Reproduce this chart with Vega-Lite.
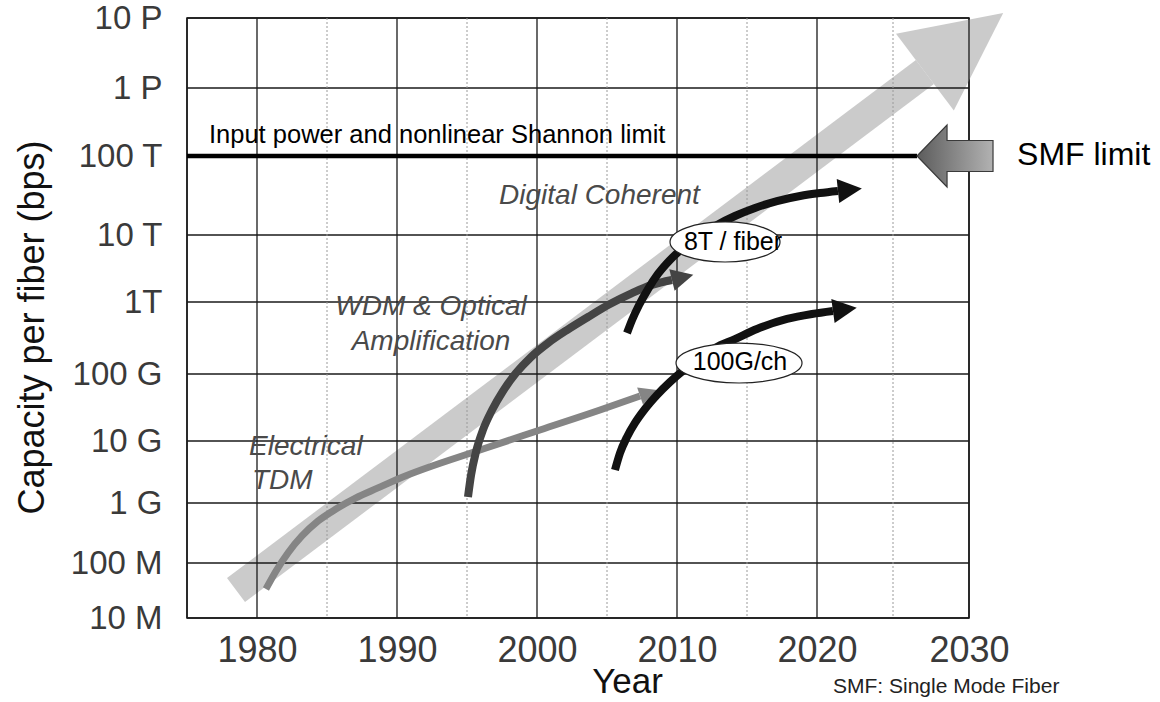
{
  "$schema": "https://vega.github.io/schema/vega-lite/v6.json",
  "width": 782,
  "height": 600,
  "autosize": {"type": "none"},
  "padding": {"left": 187, "top": 18, "right": 191, "bottom": 84},
  "background": "white",
  "config": {"view": {"stroke": "#111", "strokeWidth": 1.5}, "font": "Liberation Sans"},
  "datasets": {
    "curves": [
      {"series": "TDM", "year": 1980.64, "cap": 3.37e7},
      {"series": "TDM", "year": 1981.36, "cap": 7.16e7},
      {"series": "TDM", "year": 1982.21, "cap": 1.47e8},
      {"series": "TDM", "year": 1983.21, "cap": 2.82e8},
      {"series": "TDM", "year": 1984.36, "cap": 5.0e8},
      {"series": "TDM", "year": 1985.64, "cap": 7.94e8},
      {"series": "TDM", "year": 1987.07, "cap": 1.21e9},
      {"series": "TDM", "year": 1988.64, "cap": 1.75e9},
      {"series": "TDM", "year": 1990.07, "cap": 2.44e9},
      {"series": "TDM", "year": 1996.14, "cap": 7.43e9},
      {"series": "TDM", "year": 2000.21, "cap": 1.46e10},
      {"series": "TDM", "year": 2004.5, "cap": 2.9e10},
      {"series": "TDM", "year": 2007.36, "cap": 4.7e10},
      {"series": "WDM", "year": 1995.07, "cap": 1.25e9},
      {"series": "WDM", "year": 1995.29, "cap": 2.83e9},
      {"series": "WDM", "year": 1995.64, "cap": 6.65e9},
      {"series": "WDM", "year": 1996.14, "cap": 1.46e10},
      {"series": "WDM", "year": 1996.79, "cap": 2.9e10},
      {"series": "WDM", "year": 1997.57, "cap": 5.57e10},
      {"series": "WDM", "year": 1998.5, "cap": 1.03e11},
      {"series": "WDM", "year": 1999.57, "cap": 1.72e11},
      {"series": "WDM", "year": 2000.79, "cap": 2.7e11},
      {"series": "WDM", "year": 2002.14, "cap": 4.08e11},
      {"series": "WDM", "year": 2003.64, "cap": 6.19e11},
      {"series": "WDM", "year": 2005.21, "cap": 9.38e11},
      {"series": "WDM", "year": 2006.79, "cap": 1.36e12},
      {"series": "WDM", "year": 2008.21, "cap": 1.8e12},
      {"series": "WDM", "year": 2009.64, "cap": 2.13e12},
      {"series": "8T", "year": 2006.43, "cap": 3.71e11},
      {"series": "8T", "year": 2006.79, "cap": 5.62e11},
      {"series": "8T", "year": 2007.29, "cap": 9.08e11},
      {"series": "8T", "year": 2007.93, "cap": 1.56e12},
      {"series": "8T", "year": 2008.64, "cap": 2.62e12},
      {"series": "8T", "year": 2009.5, "cap": 4.24e12},
      {"series": "8T", "year": 2010.5, "cap": 6.62e12},
      {"series": "8T", "year": 2011.64, "cap": 1.0e13},
      {"series": "8T", "year": 2012.86, "cap": 1.34e13},
      {"series": "8T", "year": 2014.14, "cap": 1.74e13},
      {"series": "8T", "year": 2015.57, "cap": 2.2e13},
      {"series": "8T", "year": 2017.14, "cap": 2.69e13},
      {"series": "8T", "year": 2018.79, "cap": 3.12e13},
      {"series": "8T", "year": 2020.2, "cap": 3.4e13},
      {"series": "8T", "year": 2021.38, "cap": 3.61e13},
      {"series": "100G", "year": 2005.57, "cap": 3.41e9},
      {"series": "100G", "year": 2005.93, "cap": 6.4e9},
      {"series": "100G", "year": 2006.43, "cap": 1.15e10},
      {"series": "100G", "year": 2007.0, "cap": 1.86e10},
      {"series": "100G", "year": 2007.71, "cap": 3.0e10},
      {"series": "100G", "year": 2008.57, "cap": 4.86e10},
      {"series": "100G", "year": 2009.5, "cap": 7.6e10},
      {"series": "100G", "year": 2010.57, "cap": 1.17e11},
      {"series": "100G", "year": 2011.64, "cap": 1.67e11},
      {"series": "100G", "year": 2012.71, "cap": 2.3e11},
      {"series": "100G", "year": 2014.14, "cap": 3.06e11},
      {"series": "100G", "year": 2015.71, "cap": 4.22e11},
      {"series": "100G", "year": 2017.86, "cap": 5.81e11},
      {"series": "100G", "year": 2019.64, "cap": 6.81e11},
      {"series": "100G", "year": 2021.05, "cap": 7.5e11}
    ],
    "heads": [
      {"series": "TDM", "year": 2007.36, "cap": 4.7e10},
      {"series": "WDM", "year": 2009.64, "cap": 2.13e12},
      {"series": "8T", "year": 2021.38, "cap": 3.61e13},
      {"series": "100G", "year": 2021.05, "cap": 7.5e11}
    ],
    "bigArrow": [
      {"year": 1978.5, "cap": 3.23e7},
      {"year": 2027.1, "cap": 1.69e15}
    ],
    "hgrid": [
      {"cap": 1e7}, {"cap": 1e8}, {"cap": 1e9}, {"cap": 1e10}, {"cap": 1e11},
      {"cap": 1e12}, {"cap": 1e13}, {"cap": 1e15}, {"cap": 1e16}
    ],
    "vgrid": [
      {"year": 1975}, {"year": 1980}, {"year": 1990}, {"year": 2000},
      {"year": 2010}, {"year": 2020}, {"year": 2030}
    ],
    "vgridDot": [
      {"year": 1985}, {"year": 1995}, {"year": 2005}, {"year": 2015}, {"year": 2025}
    ]
  },
  "layer": [
    {
      "data": {"name": "bigArrow"},
      "mark": {"type": "line", "color": "#cbcbcb", "strokeWidth": 30, "strokeCap": "butt"},
      "encoding": {
        "x": {
          "field": "year", "type": "quantitative",
          "scale": {"type": "linear", "domain": [1975, 2020, 2030], "range": [0, 630, 782], "nice": false, "zero": false},
          "axis": {
            "values": [1980, 1990, 2000, 2010, 2020, 2030], "format": "d",
            "grid": false, "domain": false, "ticks": false, "tickSize": 0,
            "labelFontSize": 36, "labelColor": "#3a3a3a", "labelPadding": 43,
            "labelBaseline": "alphabetic", "labelOverlap": false, "labelFlush": false,
            "title": "Year", "titleFontSize": 35, "titleFontWeight": "normal", "titleColor": "#111",
            "titleX": 440, "titleY": 74, "titleBaseline": "alphabetic", "titleAlign": "center"
          }
        },
        "y": {
          "field": "cap", "type": "quantitative",
          "scale": {"type": "log", "domain": [1e7, 1e8, 1e9, 1e10, 1e11, 1e12, 1e13, 1e14, 1e15, 1e16], "range": [600, 545, 485, 423, 356, 284, 217, 138, 70, 0], "nice": false},
          "axis": {
            "values": [1e7, 1e8, 1e9, 1e10, 1e11, 1e12, 1e13, 1e14, 1e15, 1e16],
            "labelExpr": "['10 M','100 M','1 G','10 G','100 G','1T','10 T','100 T','1 P','10 P'][round(log(datum.value)/LN10)-7]",
            "grid": false, "domain": false, "ticks": false, "tickSize": 0,
            "labelFontSize": 33, "labelColor": "#3a3a3a", "labelPadding": 25,
            "labelBaseline": "middle", "labelOverlap": false,
            "title": "Capacity per fiber (bps)", "titleFontSize": 36, "titleFontWeight": "normal", "titleColor": "#111",
            "titleX": -144, "titleY": 309, "titleAngle": 270, "titleBaseline": "alphabetic", "titleAlign": "center"
          }
        }
      }
    },
    {
      "data": {"values": [{"year": 2027.1, "cap": 1.69e15}]},
      "mark": {"type": "point", "shape": "M -0.49 0 L 0.49 0 L 0 -1 Z", "size": 38416, "angle": 53, "filled": true, "color": "#cbcbcb", "opacity": 1},
      "encoding": {
        "x": {"field": "year", "type": "quantitative"},
        "y": {"field": "cap", "type": "quantitative"}
      }
    },
    {
      "data": {"name": "hgrid"},
      "mark": {"type": "rule", "color": "#1a1a1a", "strokeWidth": 1.3},
      "encoding": {"y": {"field": "cap", "type": "quantitative"}}
    },
    {
      "data": {"name": "vgrid"},
      "mark": {"type": "rule", "color": "#1a1a1a", "strokeWidth": 1.3},
      "encoding": {"x": {"field": "year", "type": "quantitative"}}
    },
    {
      "data": {"name": "vgridDot"},
      "mark": {"type": "rule", "color": "#9a9a9a", "strokeWidth": 1, "strokeDash": [2, 2]},
      "encoding": {"x": {"field": "year", "type": "quantitative"}}
    },
    {
      "data": {"values": [{"year": 1975, "cap": 1e14}, {"year": 2026.58, "cap": 1e14}]},
      "mark": {"type": "line", "color": "#000", "strokeWidth": 4.5, "strokeCap": "butt"},
      "encoding": {
        "x": {"field": "year", "type": "quantitative"},
        "y": {"field": "cap", "type": "quantitative"}
      }
    },
    {
      "data": {"name": "curves"},
      "transform": [{"filter": "datum.series === 'TDM'"}],
      "mark": {"type": "line", "color": "#858585", "strokeWidth": 7, "strokeCap": "butt", "interpolate": "monotone"},
      "encoding": {
        "x": {"field": "year", "type": "quantitative"},
        "y": {"field": "cap", "type": "quantitative"}
      }
    },
    {
      "data": {"name": "heads"},
      "transform": [{"filter": "datum.series === 'TDM'"}],
      "mark": {"type": "point", "shape": "M -0.5 0 L 0.5 0 L 0 -1 Z", "size": 1296, "angle": 71, "filled": true, "color": "#858585", "opacity": 1},
      "encoding": {
        "x": {"field": "year", "type": "quantitative"},
        "y": {"field": "cap", "type": "quantitative"}
      }
    },
    {
      "data": {"name": "curves"},
      "transform": [{"filter": "datum.series === 'WDM'"}],
      "mark": {"type": "line", "color": "#444444", "strokeWidth": 8, "strokeCap": "butt", "interpolate": "monotone"},
      "encoding": {
        "x": {"field": "year", "type": "quantitative"},
        "y": {"field": "cap", "type": "quantitative"}
      }
    },
    {
      "data": {"name": "heads"},
      "transform": [{"filter": "datum.series === 'WDM'"}],
      "mark": {"type": "point", "shape": "M -0.5 0 L 0.5 0 L 0 -1 Z", "size": 1936, "angle": 76, "filled": true, "color": "#444444", "opacity": 1},
      "encoding": {
        "x": {"field": "year", "type": "quantitative"},
        "y": {"field": "cap", "type": "quantitative"}
      }
    },
    {
      "data": {"name": "curves"},
      "transform": [{"filter": "datum.series === '8T'"}],
      "mark": {"type": "line", "color": "#111111", "strokeWidth": 8, "strokeCap": "butt", "interpolate": "monotone"},
      "encoding": {
        "x": {"field": "year", "type": "quantitative"},
        "y": {"field": "cap", "type": "quantitative"}
      }
    },
    {
      "data": {"name": "heads"},
      "transform": [{"filter": "datum.series === '8T'"}],
      "mark": {"type": "point", "shape": "M -0.5 0 L 0.5 0 L 0 -1 Z", "size": 2304, "angle": 84, "filled": true, "color": "#111111", "opacity": 1},
      "encoding": {
        "x": {"field": "year", "type": "quantitative"},
        "y": {"field": "cap", "type": "quantitative"}
      }
    },
    {
      "data": {"name": "curves"},
      "transform": [{"filter": "datum.series === '100G'"}],
      "mark": {"type": "line", "color": "#111111", "strokeWidth": 8, "strokeCap": "butt", "interpolate": "monotone"},
      "encoding": {
        "x": {"field": "year", "type": "quantitative"},
        "y": {"field": "cap", "type": "quantitative"}
      }
    },
    {
      "data": {"name": "heads"},
      "transform": [{"filter": "datum.series === '100G'"}],
      "mark": {"type": "point", "shape": "M -0.5 0 L 0.5 0 L 0 -1 Z", "size": 2304, "angle": 82, "filled": true, "color": "#111111", "opacity": 1},
      "encoding": {
        "x": {"field": "year", "type": "quantitative"},
        "y": {"field": "cap", "type": "quantitative"}
      }
    },
    {
      "data": {"values": [{"year": 2013.43, "cap": 7.87e12}]},
      "mark": {"type": "point", "shape": "M -1 0 A 1 0.364 0 1 1 1 0 A 1 0.364 0 1 1 -1 0 Z", "size": 12100, "filled": true, "fill": "white", "stroke": "#222", "strokeWidth": 1.2, "opacity": 1},
      "encoding": {
        "x": {"field": "year", "type": "quantitative"},
        "y": {"field": "cap", "type": "quantitative"}
      }
    },
    {
      "data": {"values": [{"year": 2014.43, "cap": 1.42e11}]},
      "mark": {"type": "point", "shape": "M -1 0 A 1 0.317 0 1 1 1 0 A 1 0.317 0 1 1 -1 0 Z", "size": 15876, "filled": true, "fill": "white", "stroke": "#222", "strokeWidth": 1.2, "opacity": 1},
      "encoding": {
        "x": {"field": "year", "type": "quantitative"},
        "y": {"field": "cap", "type": "quantitative"}
      }
    },
    {
      "data": {"values": [
        {"label": "8T / fiber", "year": 2014.0, "cap": 7.9e12},
        {"label": "100G/ch", "year": 2014.5, "cap": 1.49e11}
      ]},
      "mark": {"type": "text", "align": "center", "baseline": "middle", "fontSize": 25, "color": "#000"},
      "encoding": {
        "x": {"field": "year", "type": "quantitative"},
        "y": {"field": "cap", "type": "quantitative"},
        "text": {"field": "label"}
      }
    },
    {
      "data": {"values": [{"label": "Input power and nonlinear Shannon limit", "year": 1976.57, "cap": 1.55e14}]},
      "mark": {"type": "text", "align": "left", "baseline": "alphabetic", "fontSize": 25.5, "color": "#000"},
      "encoding": {
        "x": {"field": "year", "type": "quantitative"},
        "y": {"field": "cap", "type": "quantitative"},
        "text": {"field": "label"}
      }
    },
    {
      "data": {"values": [{"year": 2029.08, "cap": 1e14}]},
      "mark": {
        "type": "point",
        "shape": "M -1 0 L -0.21 -0.816 L -0.21 -0.408 L 1 -0.408 L 1 0.408 L -0.21 0.408 L -0.21 0.816 Z",
        "size": 5776, "filled": true, "opacity": 1,
        "fill": {"gradient": "linear", "x1": 0, "x2": 1, "y1": 0, "y2": 0, "stops": [{"offset": 0, "color": "#5c5c5c"}, {"offset": 1, "color": "#b2b2b2"}]},
        "stroke": "#3a3a3a", "strokeWidth": 1.2
      },
      "encoding": {
        "x": {"field": "year", "type": "quantitative"},
        "y": {"field": "cap", "type": "quantitative"}
      }
    },
    {
      "data": {"values": [{"label": "SMF limit", "year": 2033.16, "cap": 7.69e13}]},
      "mark": {"type": "text", "align": "left", "baseline": "alphabetic", "fontSize": 32, "color": "#000"},
      "encoding": {
        "x": {"field": "year", "type": "quantitative"},
        "y": {"field": "cap", "type": "quantitative"},
        "text": {"field": "label"}
      }
    },
    {
      "data": {"values": [{"label": "SMF: Single Mode Fiber", "year": 2021.05, "cap": 4.3e5}]},
      "mark": {"type": "text", "align": "left", "baseline": "alphabetic", "fontSize": 21, "color": "#222"},
      "encoding": {
        "x": {"field": "year", "type": "quantitative"},
        "y": {"field": "cap", "type": "quantitative"},
        "text": {"field": "label"}
      }
    },
    {
      "data": {"values": [
        {"label": "Digital Coherent", "year": 1997.29, "cap": 2.47e13},
        {"label": "Electrical", "year": 1979.43, "cap": 5.94e9},
        {"label": "TDM", "year": 1979.64, "cap": 1.68e9}
      ]},
      "mark": {"type": "text", "align": "left", "baseline": "alphabetic", "fontSize": 28, "fontStyle": "italic", "color": "#4a4a4a"},
      "encoding": {
        "x": {"field": "year", "type": "quantitative"},
        "y": {"field": "cap", "type": "quantitative"},
        "text": {"field": "label"}
      }
    },
    {
      "data": {"values": [
        {"label": "WDM & Optical", "year": 1992.43, "cap": 6.59e11},
        {"label": "Amplification", "year": 1992.43, "cap": 2.15e11}
      ]},
      "mark": {"type": "text", "align": "center", "baseline": "alphabetic", "fontSize": 28, "fontStyle": "italic", "color": "#4a4a4a"},
      "encoding": {
        "x": {"field": "year", "type": "quantitative"},
        "y": {"field": "cap", "type": "quantitative"},
        "text": {"field": "label"}
      }
    }
  ]
}
